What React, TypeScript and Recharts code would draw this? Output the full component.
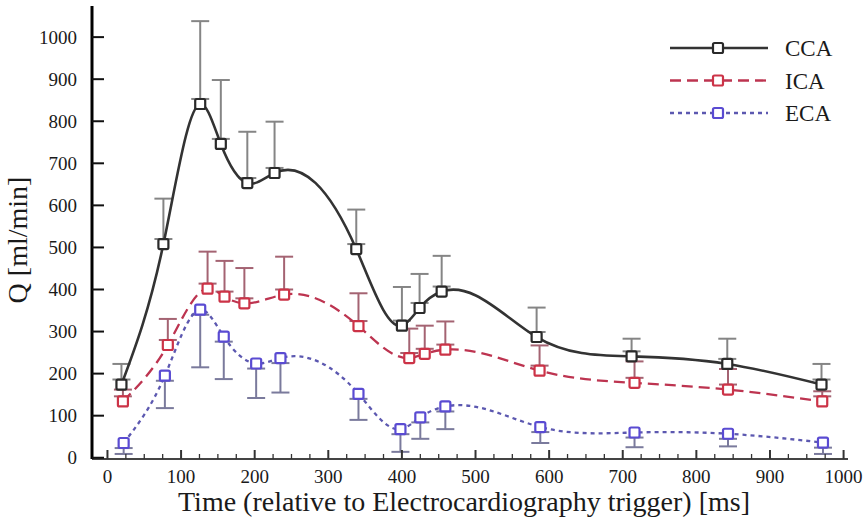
import React from "react";
import { LineChart, Line, XAxis, YAxis, ErrorBar, Label } from "recharts";

// time points [ms] and flow [ml/min]
const ccaTime = [19, 76, 126, 154, 190, 227, 338, 400, 424, 454, 583, 712, 842, 970];
const ccaFlow = [174, 508, 841, 746, 653, 677, 496, 314, 356, 395, 287, 241, 223, 174];
const ccaUpper = [223, 616, 1038, 898, 775, 799, 590, 406, 437, 480, 357, 283, 283, 223];

const icaTime = [21, 82, 136, 159, 186, 240, 341, 410, 431, 459, 587, 716, 843, 971];
const icaFlow = [134, 268, 402, 383, 367, 388, 313, 237, 247, 257, 207, 178, 162, 134];
const icaUpper = [162, 330, 490, 468, 451, 478, 391, 307, 314, 324, 267, 229, 211, 158];

const ecaTime = [22, 78, 126, 158, 202, 235, 341, 398, 425, 459, 588, 716, 843, 972];
const ecaFlow = [35, 195, 352, 288, 224, 237, 152, 68, 96, 122, 73, 60, 57, 36];
const ecaLower = [9, 118, 215, 187, 142, 155, 90, 14, 45, 68, 35, 25, 27, 9];

const yTicks = [0, 100, 200, 300, 400, 500, 600, 700, 800, 900, 1000];
const xTicks = [
  0, 25, 50, 75, 100, 125, 150, 175, 200, 225, 250, 275, 300, 325, 350, 375, 400,
  425, 450, 475, 500, 525, 550, 575, 600, 625, 650, 675, 700, 725, 750, 775, 800,
  825, 850, 875, 900, 925, 950, 975, 1000,
];

const FONT = "Liberation Serif, Times New Roman, serif";

// error bars start at the marker edge instead of its centre (half marker ≈ 12 ml/min)
const EDGE = 12;

const ccaRows = ccaTime.map((t, i) => ({ t, q: ccaFlow[i], err: [-EDGE, ccaUpper[i] - ccaFlow[i]] }));
const icaRows = icaTime.map((t, i) => ({ t, q: icaFlow[i], err: [-EDGE, icaUpper[i] - icaFlow[i]] }));
const ecaRows = ecaTime.map((t, i) => ({ t, q: ecaFlow[i], err: [ecaFlow[i] - ecaLower[i], -EDGE] }));

const series = [
  { name: "CCA", rows: ccaRows, line: "#333333", marker: "#2a2a2a", bar: "#858585", dash: undefined as string | undefined, width: 2.6 },
  { name: "ICA", rows: icaRows, line: "#bd3450", marker: "#cc3347", bar: "#a46372", dash: "11 6", width: 2.3 },
  { name: "ECA", rows: ecaRows, line: "#5c58b0", marker: "#5a4bd2", bar: "#7a7a9c", dash: "4 4", width: 2.3 },
];

// natural cubic spline with y as a function of x (smooth, no loops on uneven spacing)
function splineX(context: any) {
  let xs: number[] = [];
  let ys: number[] = [];
  let line = NaN;
  return {
    areaStart() { line = 0; },
    areaEnd() { line = NaN; },
    lineStart() { xs = []; ys = []; },
    lineEnd() {
      const n = xs.length;
      if (n) {
        if (line) context.lineTo(xs[0], ys[0]);
        else context.moveTo(xs[0], ys[0]);
        if (n === 2) context.lineTo(xs[1], ys[1]);
        else if (n > 2) {
          const h: number[] = [];
          for (let i = 0; i < n - 1; i++) h[i] = xs[i + 1] - xs[i];
          const M = new Array(n).fill(0);
          const b: number[] = [], c: number[] = [], d: number[] = [], a: number[] = [];
          for (let i = 1; i < n - 1; i++) {
            a[i] = h[i - 1];
            b[i] = 2 * (h[i - 1] + h[i]);
            c[i] = h[i];
            d[i] = 6 * ((ys[i + 1] - ys[i]) / h[i] - (ys[i] - ys[i - 1]) / h[i - 1]);
          }
          for (let i = 2; i < n - 1; i++) {
            const w = a[i] / b[i - 1];
            b[i] -= w * c[i - 1];
            d[i] -= w * d[i - 1];
          }
          M[n - 2] = d[n - 2] / b[n - 2];
          for (let i = n - 3; i >= 1; i--) M[i] = (d[i] - c[i] * M[i + 1]) / b[i];
          for (let i = 0; i < n - 1; i++) {
            const hi = h[i];
            const dy = (ys[i + 1] - ys[i]) / hi;
            const s0 = dy - (hi * (2 * M[i] + M[i + 1])) / 6;
            const s1 = dy + (hi * (M[i] + 2 * M[i + 1])) / 6;
            context.bezierCurveTo(
              xs[i] + hi / 3, ys[i] + (s0 * hi) / 3,
              xs[i + 1] - hi / 3, ys[i + 1] - (s1 * hi) / 3,
              xs[i + 1], ys[i + 1]
            );
          }
        }
      }
      if (line || (line !== 0 && n === 1)) context.closePath();
      line = 1 - line;
    },
    point(x: number, y: number) {
      xs.push(+x);
      ys.push(+y);
    },
  };
}

const squareDot = (color: string, tag: string) => (props: any) => {
  const { cx, cy, index } = props;
  return (
    <rect
      key={`${tag}-${index}`}
      x={cx - 5}
      y={cy - 5}
      width={10}
      height={10}
      rx={1.5}
      fill="#fff"
      stroke={color}
      strokeWidth={2.2}
    />
  );
};

const YTick = (props: any) => {
  const { x, y, payload } = props;
  return (
    <g>
      <line x1={x} x2={x + 12} y1={y} y2={y} stroke="#111" strokeWidth={2} />
      <text x={x - 15} y={y} dy="0.35em" textAnchor="end" fontSize={19} fontFamily={FONT} fill="#1a1a1a">
        {payload.value}
      </text>
    </g>
  );
};

const XTick = (props: any) => {
  const { x, y, payload } = props;
  const major = payload.value % 100 === 0;
  return (
    <g>
      <line x1={x} x2={x} y1={y} y2={y - (major ? 9 : 5)} stroke="#333" strokeWidth={major ? 2 : 1.3} />
      {major && (
        <text x={x} y={y + 24} textAnchor="middle" fontSize={19} fontFamily={FONT} fill="#1a1a1a">
          {payload.value}
        </text>
      )}
    </g>
  );
};

const LegendBox = () => (
  <svg width={200} height={100} style={{ position: "absolute", left: 660, top: 28 }}>
    {series.map((s, i) => {
      const y = 20 + i * 32.5;
      return (
        <g key={s.name}>
          <line x1={10} x2={108} y1={y} y2={y} stroke={s.line} strokeWidth={s.width} strokeDasharray={s.dash} />
          <rect x={53} y={y - 5} width={10} height={10} rx={1.5} fill="#fff" stroke={s.marker} strokeWidth={2.2} />
          <text x={125} y={y + 8} fontSize={23} fontFamily={FONT} fill="#1a1a1a">
            {s.name}
          </text>
        </g>
      );
    })}
  </svg>
);

export default function App() {
  const drawOrder = [2, 1, 0];
  return (
    <div style={{ position: "absolute", left: 0, top: 0, width: 865, height: 522, background: "#fff" }}>
      <LineChart width={865} height={522} margin={{ top: 6, right: 17, left: 0, bottom: 0 }}>
        <XAxis
          type="number"
          dataKey="t"
          domain={[-21, 1006]}
          ticks={xTicks}
          interval={0}
          allowDataOverflow
          height={63}
          tickSize={0}
          tickMargin={0}
          tick={<XTick />}
          axisLine={{ stroke: "#444", strokeWidth: 2 }}
        >
          <Label
            content={(p: any) => {
              const vb = p.viewBox;
              return (
                <text x={vb.x + vb.width / 2 - 6} y={vb.y + 52} textAnchor="middle" fontSize={28} fontFamily={FONT} fill="#1a1a1a">
                  Time (relative to Electrocardiography trigger) [ms]
                </text>
              );
            }}
          />
        </XAxis>
        <YAxis
          type="number"
          domain={[-3, 1074]}
          ticks={yTicks}
          interval={0}
          allowDataOverflow
          width={92}
          tickSize={0}
          tickMargin={0}
          tick={<YTick />}
          axisLine={{ stroke: "#000", strokeWidth: 3 }}
        >
          <Label
            content={() => (
              <text x={27} y={240} textAnchor="middle" fontSize={28} fontFamily={FONT} fill="#1a1a1a" transform="rotate(-90 27 240)">
                Q [ml/min]
              </text>
            )}
          />
        </YAxis>
        {drawOrder.map((si) => {
          const s = series[si];
          return (
            <Line
              key={`${s.name}-curve`}
              data={s.rows}
              dataKey="q"
              name={s.name}
              type={splineX as any}
              stroke={s.line}
              strokeWidth={s.width}
              strokeDasharray={s.dash}
              dot={false}
              activeDot={false}
              isAnimationActive={false}
            >
              <ErrorBar dataKey="err" direction="y" width={9} stroke={s.bar} strokeWidth={2} />
            </Line>
          );
        })}
        {drawOrder.map((si) => {
          const s = series[si];
          return (
            <Line
              key={`${s.name}-marks`}
              data={s.rows}
              dataKey="q"
              name={`${s.name} marks`}
              type="linear"
              stroke="none"
              dot={squareDot(s.marker, s.name)}
              activeDot={false}
              isAnimationActive={false}
            />
          );
        })}
      </LineChart>
      <LegendBox />
    </div>
  );
}
